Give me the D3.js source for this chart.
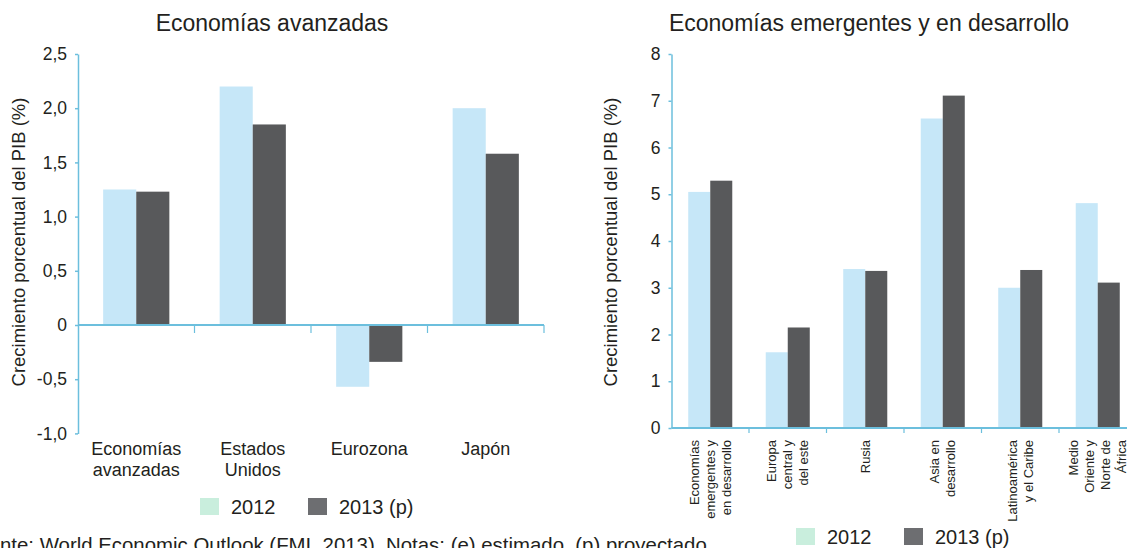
<!DOCTYPE html>
<html>
<head>
<meta charset="utf-8">
<script src="https://cdn.jsdelivr.net/npm/d3@7"></script>
<style>
  body { margin: 0; background: #fff; }
  svg { display: block; font-family: "Liberation Sans", Arial, Helvetica, sans-serif; }
  .tick text { fill: #231f20; }
</style>
</head>
<body>
<script>
// datos
var seriesNames = ["2012", "2013 (p)"];

var advCategories = [["Economías", "avanzadas"], ["Estados", "Unidos"], ["Eurozona"], ["Japón"]];
var adv2012 = [1.25, 2.2, -0.57, 2.0];
var adv2013 = [1.23, 1.85, -0.34, 1.58];
var advTicks = [-1, -0.5, 0, 0.5, 1, 1.5, 2, 2.5];

var emeCategories = [
  ["Economías", "emergentes y", "en desarrollo"],
  ["Europa", "central y", "del este"],
  ["Rusia"],
  ["Asia en", "desarrollo"],
  ["Latinoamérica", "y el Caribe"],
  ["Medio", "Oriente y", "Norte de", "África"]
];
var eme2012 = [5.05, 1.62, 3.4, 6.62, 3.0, 4.81];
var eme2013 = [5.29, 2.15, 3.36, 7.11, 3.38, 3.11];
var emeTicks = [0, 1, 2, 3, 4, 5, 6, 7, 8];

var barColors = ["#c6e7f8", "#58595b"];
var legendColors = ["#c9eedd", "#6d6e71"];
var axisColor = "#6cbfdd";
var textColor = "#231f20";

var svg = d3.select("body").append("svg")
  .attr("width", 1127)
  .attr("height", 548);

var drawPanel = function(p){
  var g = svg.append("g");
  var idx = d3.range(p.categories.length);

  var x0 = d3.scaleBand().domain(idx).range(p.xRange).padding(0);
  var x1 = d3.scaleBand().domain([0, 1]).range([0, x0.bandwidth()]).paddingOuter(0.76);
  var y = d3.scaleLinear().domain(p.yDomain).range(p.yRange);

  // barras
  [p.s2012, p.s2013].forEach(function(vals, s){
    g.selectAll(".bar-" + s)
      .data(vals).enter().append("rect")
      .attr("class", "bar-" + s)
      .attr("x", function(d, i){ return x0(i) + x1(s) })
      .attr("y", function(d){ return y(Math.max(0, d)) })
      .attr("width", x1.bandwidth())
      .attr("height", function(d){ return Math.abs(y(d) - y(0)) })
      .attr("fill", barColors[s]);
  });

  // eje y
  var yAxis = d3.axisLeft(y)
    .tickValues(p.ticks)
    .tickSize(3)
    .tickSizeOuter(0)
    .tickPadding(8)
    .tickFormat(p.fmt);

  var ya = g.append("g")
    .attr("transform", "translate(" + p.xRange[0] + ",0)")
    .call(yAxis);
  ya.select(".domain").attr("stroke", axisColor).attr("stroke-width", 1.5);
  ya.selectAll(".tick line").attr("stroke", axisColor).attr("stroke-width", 1.5);
  ya.selectAll(".tick text")
    .attr("font-size", p.tickFont + "px")
    .attr("fill", textColor);

  // linea del cero
  g.append("line")
    .attr("x1", p.xRange[0]).attr("x2", Math.min(p.xRange[1], 1127))
    .attr("y1", y(0)).attr("y2", y(0))
    .attr("stroke", axisColor).attr("stroke-width", 2);

  g.selectAll(".xtick")
    .data(idx).enter().append("line")
    .attr("class", "xtick")
    .attr("x1", function(d){ return x0(d) + x0.bandwidth() })
    .attr("x2", function(d){ return x0(d) + x0.bandwidth() })
    .attr("y1", y(0)).attr("y2", y(0) + p.xTick)
    .attr("stroke", axisColor).attr("stroke-width", 1.2);

  // etiquetas de categoria
  if( p.rotate ){
    idx.forEach(function(i){
      var lines = p.categories[i];
      var cx = x0(i) + x0.bandwidth() / 2;
      g.selectAll(".cl-" + i)
        .data(lines).enter().append("text")
        .attr("class", "cl-" + i)
        .attr("transform", function(d, k){
          var lx = cx + (k - (lines.length - 1) / 2) * p.lineGap;
          return "translate(" + lx + "," + p.labelY + ") rotate(-90)";
        })
        .attr("text-anchor", "end")
        .attr("dominant-baseline", "central")
        .attr("font-size", p.labelFont + "px")
        .attr("fill", textColor)
        .text(function(d){ return d });
    });
  } else {
    idx.forEach(function(i){
      g.selectAll(".cl-" + i)
        .data(p.categories[i]).enter().append("text")
        .attr("class", "cl-" + i)
        .attr("x", x0(i) + x0.bandwidth() / 2)
        .attr("y", function(d, k){ return p.labelY + k * p.lineGap })
        .attr("text-anchor", "middle")
        .attr("font-size", p.labelFont + "px")
        .attr("fill", textColor)
        .text(function(d){ return d });
    });
  }

  // titulo
  g.append("text")
    .attr("x", p.titleX).attr("y", 31)
    .attr("text-anchor", "middle")
    .attr("font-size", "23px")
    .attr("fill", textColor)
    .text(p.title);

  // titulo eje y
  g.append("text")
    .attr("transform", "translate(" + p.yLabelX + ",242) rotate(-90)")
    .attr("text-anchor", "middle")
    .attr("dominant-baseline", "central")
    .attr("font-size", "18.5px")
    .attr("fill", textColor)
    .text("Crecimiento porcentual del PIB (%)");

  // leyenda
  var lg = g.append("g")
    .attr("transform", "translate(" + p.legendX + "," + p.legendY + ")");
  lg.selectAll("rect")
    .data(seriesNames).enter().append("rect")
    .attr("x", function(d, i){ return i * 108 })
    .attr("y", 0)
    .attr("width", 19).attr("height", 17)
    .attr("fill", function(d, i){ return legendColors[i] });
  lg.selectAll("text")
    .data(seriesNames).enter().append("text")
    .attr("x", function(d, i){ return i * 108 + 31 })
    .attr("y", 16)
    .attr("font-size", "20px")
    .attr("fill", textColor)
    .text(function(d){ return d });
};

var commaFmt = function(d){ return d === 0 ? "0" : d.toFixed(1).replace(".", ",") };

drawPanel({
  title: "Economías avanzadas",
  titleX: 272,
  categories: advCategories,
  s2012: adv2012,
  s2013: adv2013,
  ticks: advTicks,
  fmt: commaFmt,
  xRange: [78, 544],
  yDomain: [-1, 2.5],
  yRange: [433.4, 54],
  tickFont: 17.5,
  xTick: 8,
  rotate: false,
  labelY: 455,
  lineGap: 21,
  labelFont: 18,
  yLabelX: 18,
  legendX: 200,
  legendY: 498
});

drawPanel({
  title: "Economías emergentes y en desarrollo",
  titleX: 869,
  categories: emeCategories,
  s2012: eme2012,
  s2013: eme2013,
  ticks: emeTicks,
  fmt: function(d){ return d },
  xRange: [671.5, 671.5 + 6 * 77.5],
  yDomain: [0, 8],
  yRange: [428, 54],
  tickFont: 17.5,
  xTick: 5,
  rotate: true,
  labelY: 440,
  lineGap: 16,
  labelFont: 13,
  yLabelX: 610,
  legendX: 796,
  legendY: 528
});

// fuente, cortada por el borde izquierdo como en el original
var foot = svg.append("text")
  .attr("y", 552)
  .attr("font-size", "20.4px")
  .attr("fill", textColor)
  .text("Fuente: World Economic Outlook (FMI, 2013). Notas: (e) estimado, (p) proyectado");
foot.attr("x", -foot.node().getSubStringLength(0, 3));
</script>
</body>
</html>
